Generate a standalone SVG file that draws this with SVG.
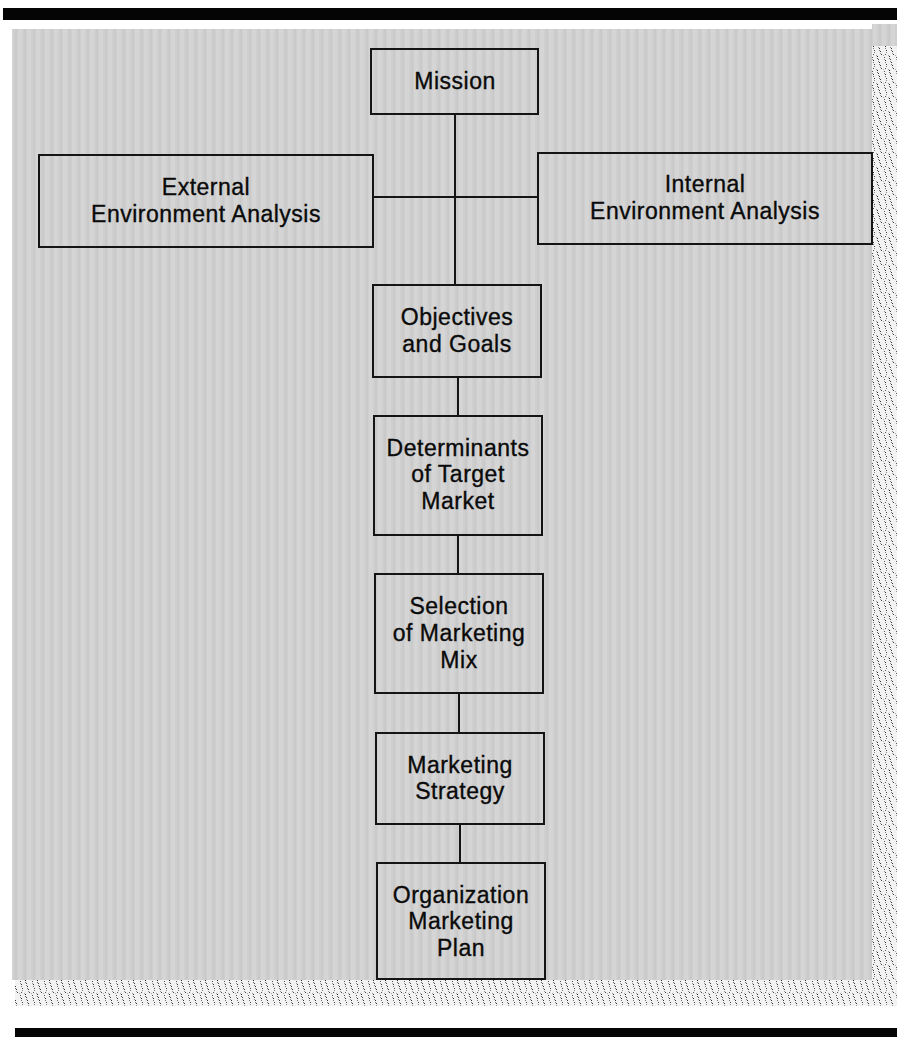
<svg xmlns="http://www.w3.org/2000/svg" width="897" height="1037" viewBox="0 0 897 1037">
  <style>
    .box { fill: none; stroke: #141414; stroke-width: 2; }
    .lbl { font-family: "Liberation Sans", Arial, sans-serif; font-size: 23px; letter-spacing: 0.5px; fill: #0a0a0a; stroke: #0a0a0a; stroke-width: 0.35px; text-anchor: middle; }
    .conn line { stroke: #141414; stroke-width: 2; }
  </style>
  <defs>
    <pattern id="stripes" width="9" height="40" patternUnits="userSpaceOnUse">
      <rect width="9" height="40" fill="#cfcfcf"/>
      <rect x="0" width="4" height="40" fill="#d5d5d5"/>
      <rect x="6" width="2" height="40" fill="#cacaca"/>
    </pattern>
    <pattern id="noise" width="12" height="14" patternUnits="userSpaceOnUse">
      <rect width="12" height="14" fill="#f2f2f2"/>
      <rect x="1" y="0" width="1" height="1" fill="#222"/>
      <rect x="1" y="2" width="1" height="1" fill="#666"/>
      <rect x="2" y="3" width="1" height="1" fill="#444"/>
      <rect x="2" y="5" width="1" height="1" fill="#888"/>
      <rect x="3" y="6" width="1" height="1" fill="#333"/>
      <rect x="3" y="8" width="1" height="1" fill="#777"/>
      <rect x="4" y="9" width="1" height="1" fill="#333"/>
      <rect x="4" y="11" width="1" height="1" fill="#999"/>
      <rect x="5" y="12" width="1" height="1" fill="#444"/>
      <rect x="8" y="1" width="1" height="1" fill="#555"/>
      <rect x="8" y="3" width="1" height="1" fill="#999"/>
      <rect x="9" y="4" width="1" height="1" fill="#333"/>
      <rect x="9" y="6" width="1" height="1" fill="#777"/>
      <rect x="10" y="8" width="1" height="1" fill="#444"/>
      <rect x="10" y="10" width="1" height="1" fill="#888"/>
      <rect x="9" y="12" width="1" height="1" fill="#555"/>
      <rect x="7" y="13" width="1" height="1" fill="#aaa"/>
      <rect x="0" y="13" width="1" height="1" fill="#999"/>
    </pattern>
  </defs>

  <rect width="897" height="1037" fill="#ffffff"/>
  <!-- top and bottom black bars -->
  <rect x="3" y="8" width="894" height="12" fill="#050505"/>
  <rect x="15" y="1028" width="882" height="9" fill="#050505"/>
  <!-- noisy strips -->
  <rect x="872" y="46" width="25" height="960" fill="url(#noise)"/>
  <rect x="15" y="980" width="882" height="26" fill="url(#noise)"/>
  <!-- gray background -->
  <rect x="12" y="29" width="860" height="951" fill="url(#stripes)"/>
  <rect x="872" y="24" width="25" height="22" fill="url(#stripes)"/>

  <g id="connectors" class="conn">
    <line x1="455" y1="114" x2="455" y2="285"/>
    <line x1="373" y1="197" x2="538" y2="197"/>
    <line x1="458" y1="377" x2="458" y2="416"/>
    <line x1="458" y1="535" x2="458" y2="574"/>
    <line x1="459" y1="693" x2="459" y2="733"/>
    <line x1="460" y1="824" x2="460" y2="863"/>
  </g>

  <g id="mission">
    <rect class="box" x="371" y="49" width="167" height="65"/>
    <text class="lbl" x="455" y="89">Mission</text>
  </g>
  <g id="external">
    <rect class="box" x="39" y="155" width="334" height="92"/>
    <text class="lbl" x="206" y="195">External</text>
    <text class="lbl" x="206" y="222">Environment Analysis</text>
  </g>
  <g id="internal">
    <rect class="box" x="538" y="153" width="334" height="91"/>
    <text class="lbl" x="705" y="192">Internal</text>
    <text class="lbl" x="705" y="219">Environment Analysis</text>
  </g>
  <g id="objectives">
    <rect class="box" x="373" y="285" width="168" height="92"/>
    <text class="lbl" x="457" y="325">Objectives</text>
    <text class="lbl" x="457" y="352">and Goals</text>
  </g>
  <g id="determinants">
    <rect class="box" x="374" y="416" width="168" height="119"/>
    <text class="lbl" x="458" y="456">Determinants</text>
    <text class="lbl" x="458" y="482">of Target</text>
    <text class="lbl" x="458" y="509">Market</text>
  </g>
  <g id="selection">
    <rect class="box" x="375" y="574" width="168" height="119"/>
    <text class="lbl" x="459" y="614">Selection</text>
    <text class="lbl" x="459" y="641">of Marketing</text>
    <text class="lbl" x="459" y="668">Mix</text>
  </g>
  <g id="strategy">
    <rect class="box" x="376" y="733" width="168" height="91"/>
    <text class="lbl" x="460" y="773">Marketing</text>
    <text class="lbl" x="460" y="799">Strategy</text>
  </g>
  <g id="plan">
    <rect class="box" x="377" y="863" width="168" height="116"/>
    <text class="lbl" x="461" y="903">Organization</text>
    <text class="lbl" x="461" y="929">Marketing</text>
    <text class="lbl" x="461" y="956">Plan</text>
  </g>
</svg>
